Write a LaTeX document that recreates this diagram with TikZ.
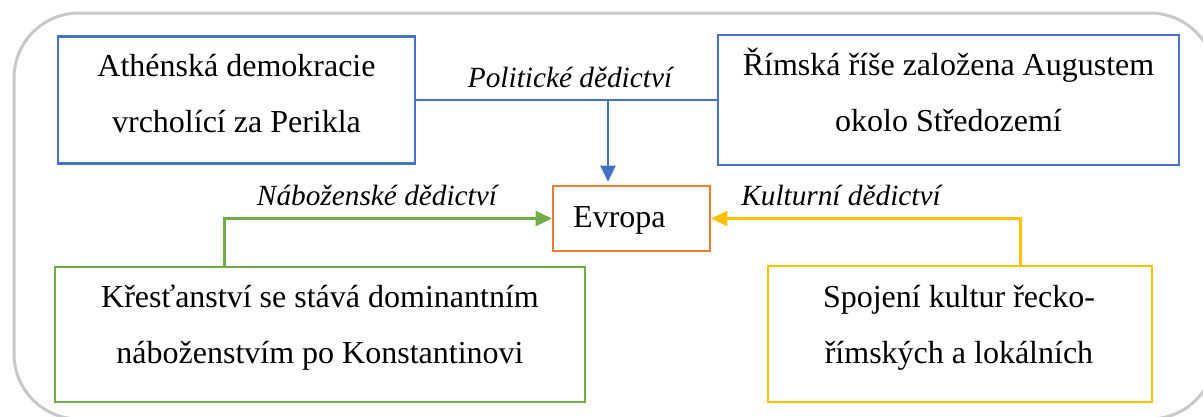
\documentclass[tikz,border=0pt]{standalone}
\usepackage{fontspec}
\setmainfont{Liberation Serif}
\usetikzlibrary{arrows.meta}
\definecolor{cblue}{RGB}{68,114,196}
\definecolor{corange}{RGB}{237,125,49}
\definecolor{cgreen}{RGB}{112,173,71}
\definecolor{cgold}{RGB}{255,192,0}
\definecolor{cgray}{RGB}{200,200,200}
\begin{document}
\begin{tikzpicture}[x=1pt,y=-1pt,
  framebox/.style={draw=#1, line width=2.6pt, rectangle, inner sep=0pt},
  txt/.style={anchor=base, inner sep=0pt, font=\fontsize{32}{38}\selectfont},
  lbl/.style={anchor=base, inner sep=0pt, font=\fontsize{29.3}{35}\selectfont\itshape},
  conn/.style={draw=#1, line width=2.6pt},
  arr/.style={-{Triangle[length=16pt,width=15pt]}}]
\useasboundingbox (0,0) rectangle (1203,416);
% outer frame
\draw[cgray, line width=3pt, rounded corners=65pt] (14,13) rectangle (1215,419);
% boxes
\node[framebox=cblue, minimum width=357pt, minimum height=127pt] (A) at (236.5,100) {};
\node[framebox=cblue, minimum width=461pt, minimum height=130pt] (B) at (948.5,100) {};
\node[framebox=corange, minimum width=157pt, minimum height=65pt] (E) at (631.5,218.5) {};
\node[framebox=cgreen, minimum width=530pt, minimum height=135pt] (C) at (320,334.5) {};
\node[framebox=cgold, minimum width=384pt, minimum height=136pt] (D) at (960,334) {};
% box texts
\node[txt] (A1) at (236.5,76) {Athénská demokracie};
\node[txt] (A2) at (236.5,132) {vrcholící za Perikla};
\node[txt] (B1) at (948.5,75.5) {Římská říše založena Augustem};
\node[txt] (B2) at (948.5,131) {okolo Středozemí};
\node[txt, anchor=base west] (E1) at (573,227) {Evropa};
\node[txt] (C1) at (320,307) {Křesťanství se stává dominantním};
\node[txt] (C2) at (320,363) {náboženstvím po Konstantinovi};
\node[txt] (D1) at (959,307) {Spojení kultur řecko-};
\node[txt] (D2) at (959,363) {římských a lokálních};
% connectors
\coordinate (pj) at (608,100);
\draw[conn=cblue] (A.east) -- (B.west);
\draw[conn=cblue, arr, shorten >=3pt] (pj) -- (pj |- E.north);
\draw[conn=cgreen, arr] ([xshift=171pt]C.north west) |- (E.west);
\draw[conn=cgold, arr] ([xshift=254pt]D.north west) |- (E.east);
% labels
\node[lbl] (L1) at (570,87) {Politické dědictví};
\node[lbl] (L2) at (377,205) {Náboženské dědictví};
\node[lbl] (L3) at (841,205) {Kulturní dědictví};
\end{tikzpicture}
\end{document}
